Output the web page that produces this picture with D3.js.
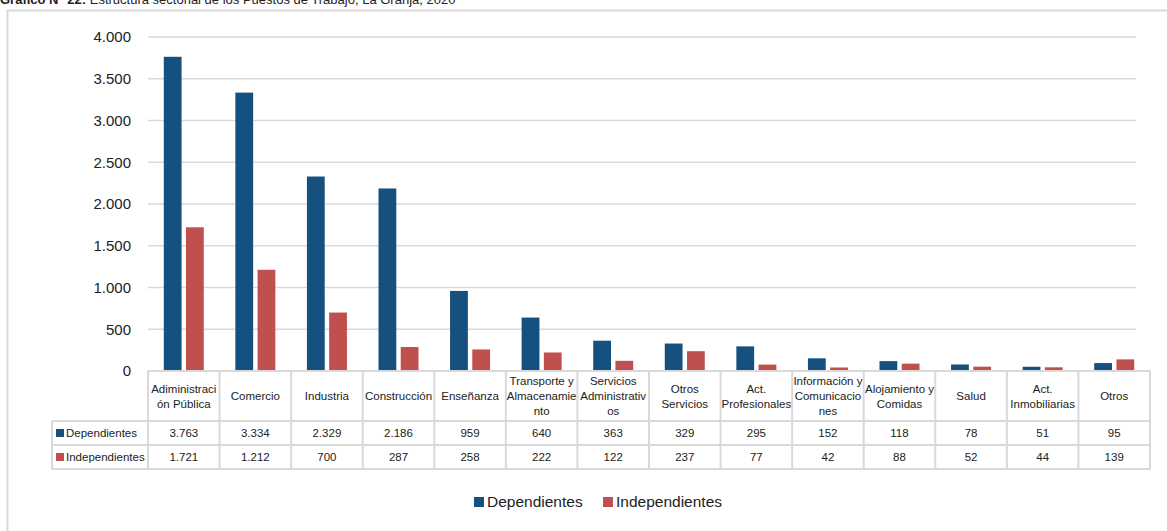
<!DOCTYPE html>
<html><head><meta charset="utf-8">
<script src="https://cdn.jsdelivr.net/npm/d3@7"></script>
<style>body{margin:0;background:#fff;} svg{display:block;font-family:"Liberation Sans",Arial,sans-serif;}</style>
</head><body>
<script>
const categories = ["Adiministración Pública","Comercio","Industria","Construcción","Enseñanza","Transporte y Almacenamiento","Servicios Administrativos","Otros Servicios","Act. Profesionales","Información y Comunicaciones","Alojamiento y Comidas","Salud","Act. Inmobiliarias","Otros"];
const headerLabels = [["Adiministraci","ón Pública"],["Comercio"],["Industria"],["Construcción"],["Enseñanza"],["Transporte y","Almacenamie","nto"],["Servicios","Administrativ","os"],["Otros","Servicios"],["Act.","Profesionales"],["Información y","Comunicacio","nes"],["Alojamiento y","Comidas"],["Salud"],["Act.","Inmobiliarias"],["Otros"]];
const seriesNames = ["Dependientes","Independientes"];
const dependientes = [3763,3334,2329,2186,959,640,363,329,295,152,118,78,51,95];
const independientes = [1721,1212,700,287,258,222,122,237,77,42,88,52,44,139];
const yTicks = [0,500,1000,1500,2000,2500,3000,3500,4000];
const colors = ["#15507e","#c0504d"];
const titleBold = "Gráfico N° 22:";
const titleRest = " Estructura sectorial de los Puestos de Trabajo, La Granja, 2020";

const W=1167,H=531;
const svg=d3.select("body").append("svg").attr("width",W).attr("height",H);
const loc=d3.formatLocale({decimal:",",thousands:".",grouping:[3],currency:["",""]});
const fmt=loc.format(",d");
const grid="#d9d9d9";

// outer frame
svg.append("path").attr("d","M7.5,540 V10.5 H1180").attr("fill","none").attr("stroke",grid).attr("stroke-width",2);

// title
const t=svg.append("text").attr("x",0).attr("y",4).attr("font-size",13).attr("fill","#222");
t.append("tspan").attr("font-weight","bold").text(titleBold);
t.append("tspan").text(titleRest);

const x0=d3.scaleBand().domain(categories).range([148,1150]);
const x1=d3.scaleBand().domain(seriesNames).range([x0.bandwidth()/2-20,x0.bandwidth()/2+20]).paddingInner(0.2);
const y=d3.scaleLinear().domain([0,4000]).range([371,37]);

// gridlines
svg.append("g").selectAll("line").data(yTicks).join("line")
 .attr("x1",148).attr("x2",1136).attr("y1",d=>y(d)).attr("y2",d=>y(d))
 .attr("stroke",grid).attr("stroke-width",1.5);
// y axis labels
const yAxis=d3.axisLeft(y).tickValues(yTicks).tickFormat(fmt).tickSize(0).tickPadding(0);
const ya=svg.append("g").attr("transform","translate(131,0)").call(yAxis);
ya.select(".domain").remove();
ya.selectAll("text").attr("font-size",15).attr("fill","#222").attr("font-family","Liberation Sans, Arial, sans-serif");

// bars
const data=[dependientes,independientes];
seriesNames.forEach((s,si)=>{
  svg.append("g").selectAll("rect").data(categories).join("rect")
   .attr("x",c=>x0(c)+x1(s)).attr("width",x1.bandwidth())
   .attr("y",(c,i)=>y(data[si][i])).attr("height",(c,i)=>y(0)-y(data[si][i]))
   .attr("fill",colors[si]);
});

// table
const tg=svg.append("g");
const rowY=[371,421,445,469];
function ln(x1,y1,x2,y2){tg.append("line").attr("x1",x1).attr("y1",y1).attr("x2",x2).attr("y2",y2).attr("stroke",grid).attr("stroke-width",2);}
ln(148,371,1150,371);
ln(52,421,1150,421);
ln(52,445,1150,445);
ln(52,469,1150,469);
categories.forEach(c=>ln(x0(c),371,x0(c),469));
ln(1150,371,1150,469);
ln(52,421,52,469);
const tfs=11.5;
categories.forEach((c,i)=>{
  const lines=headerLabels[i];
  const cx=x0(c)+x0.bandwidth()/2;
  const cy=396;
  lines.forEach((l,j)=>{
    tg.append("text").attr("x",cx).attr("y",cy+(j-(lines.length-1)/2)*15).attr("dy","0.35em")
     .attr("text-anchor","middle").attr("font-size",tfs).attr("fill","#222").text(l);
  });
});
seriesNames.forEach((s,si)=>{
  const cy=(rowY[si+1]+rowY[si+2])/2;
  tg.append("rect").attr("x",56).attr("y",cy-4).attr("width",8).attr("height",8).attr("fill",colors[si]);
  tg.append("text").attr("x",66).attr("y",cy).attr("dy","0.35em").attr("font-size",tfs).attr("fill","#222").text(s);
  categories.forEach((c,i)=>{
    tg.append("text").attr("x",x0(c)+x0.bandwidth()/2).attr("y",cy).attr("dy","0.35em")
     .attr("text-anchor","middle").attr("font-size",tfs).attr("fill","#222").text(fmt(data[si][i]));
  });
});

// legend
const lg=svg.append("g");
const lx=[474,603];
seriesNames.forEach((s,si)=>{
  lg.append("rect").attr("x",lx[si]).attr("y",497).attr("width",10).attr("height",10).attr("fill",colors[si]);
  lg.append("text").attr("x",lx[si]+13).attr("y",502).attr("dy","0.35em").attr("font-size",15.5).attr("fill","#222").text(s);
});
</script>
</body></html>
